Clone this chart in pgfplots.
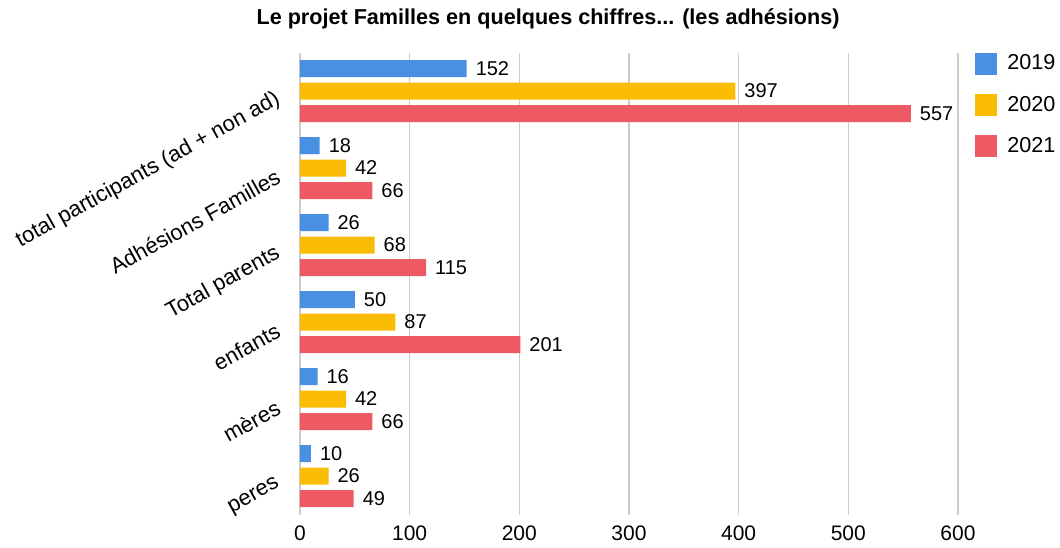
\documentclass[border=0pt]{standalone}
\usepackage{fontspec}
\setmainfont{Liberation Sans}
\usepackage{pgfplots}
\pgfplotsset{compat=1.18}
\definecolor{cblue}{HTML}{4A90E2}
\definecolor{cyellow}{HTML}{FBBC04}
\definecolor{cred}{HTML}{EE5A63}
\definecolor{cgrid}{HTML}{CCCCCC}
\begin{document}
\begin{tikzpicture}
\begin{axis}[
  scale only axis,
  width=329pt, height=231pt,
  xbar, bar width=8.5pt,
  xmin=0, xmax=600, ymin=-0.5, ymax=5.5,
  xtick={0,100,...,600},
  ytick={0,...,5},
  yticklabels={peres, mères, enfants, Total parents, Adhésions Familles, total participants (ad + non ad)},
  /pgf/number format/assume math mode=true,
  xticklabel style={font=\fontsize{10.5}{12}\selectfont, yshift=-2pt},
  yticklabel style={font=\fontsize{11}{13}\selectfont, rotate=29, anchor=east, xshift=-4pt},
  xmajorgrids, major grid style={cgrid, line width=0.75pt},
  axis line style={draw=none},
  tick style={draw=none},
  nodes near coords,
  every node near coord/.append style={font=\fontsize{10}{12}\selectfont, anchor=west, xshift=1pt, text=black},
  title={\bfseries Le projet Familles en quelques chiffres... (les adhésions)},
  title style={font=\fontsize{10.8}{13}\selectfont, at={(axis description cs:0.377,1)}, anchor=base, yshift=8pt},
  legend style={draw=none, fill=none, at={(1,1)}, anchor=north west, xshift=5.5pt, yshift=3pt,
    font=\fontsize{10.8}{13}\selectfont, row sep=7.5pt, cells={anchor=west},
    /tikz/every odd column/.append style={column sep=3pt}},
  legend image code/.code={\path[#1, draw=none] (0pt,-5.5pt) rectangle (11pt,5.5pt);},
]
\addplot[fill=cblue, draw=none, bar shift=11.25pt] coordinates {(10,0) (16,1) (50,2) (26,3) (18,4) (152,5)};
\addplot[fill=cyellow, draw=none, bar shift=0pt] coordinates {(26,0) (42,1) (87,2) (68,3) (42,4) (397,5)};
\addplot[fill=cred, draw=none, bar shift=-11.25pt] coordinates {(49,0) (66,1) (201,2) (115,3) (66,4) (557,5)};
\legend{2019,2020,2021}
\end{axis}
\pgfresetboundingbox
\path[use as bounding box] (-150pt,-16.25pt) rectangle (380pt,257.25pt);
\end{tikzpicture}
\end{document}
